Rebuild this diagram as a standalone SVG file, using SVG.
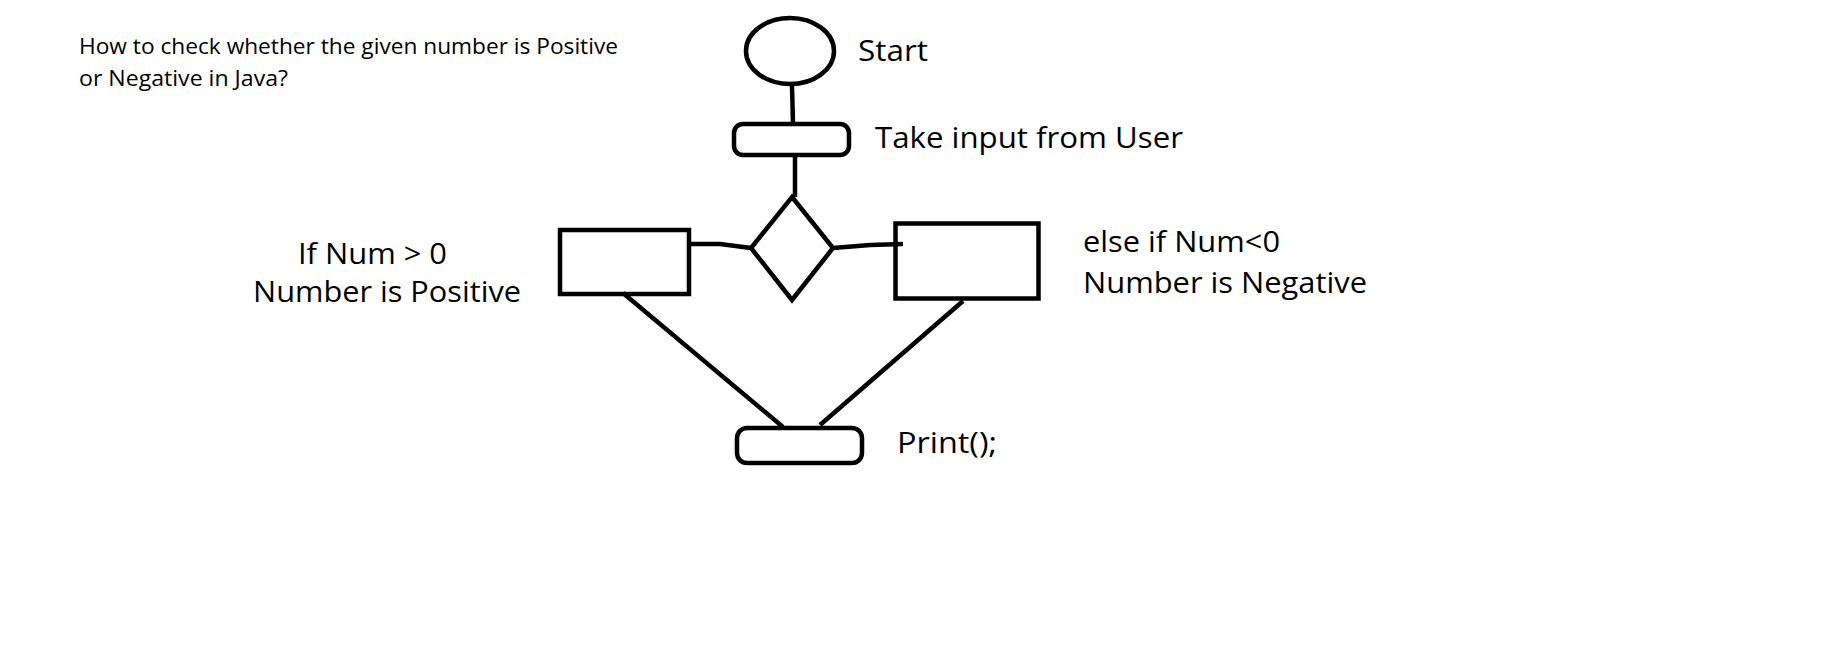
<svg xmlns="http://www.w3.org/2000/svg" width="1825" height="664" viewBox="0 0 1825 664">
<style>
.s{fill:none;stroke:#000;stroke-width:4.5;stroke-linejoin:miter}
.c{fill:none;stroke:#000;stroke-width:4.5;stroke-linecap:butt}
.t{font-family:"Open Sans","Noto Sans",sans-serif;font-size:30px;fill:#000}
.h{font-family:"Open Sans","Noto Sans",sans-serif;font-size:22.5px;fill:#000}
</style>
<rect width="1825" height="664" fill="#fff"/>
<g id="title">
<text class="h" x="79" y="54" textLength="539" lengthAdjust="spacingAndGlyphs">How to check whether the given number is Positive</text>
<text class="h" x="79" y="86" textLength="209" lengthAdjust="spacingAndGlyphs">or Negative in Java?</text>
</g>
<g id="connectors">
<path class="c" d="M792,86 L793,124"/>
<path class="c" d="M795,155 L795,197"/>
<path class="c" d="M687,244 L720,244 L751,248"/>
<path class="c" d="M833,248 L870,245 L903,244"/>
<path class="c" d="M623,293 L783,427"/>
<path class="c" d="M963,301 L820,425"/>
</g>
<g id="start">
<ellipse class="s" cx="790" cy="51" rx="44" ry="33"/>
<text class="t" x="858" y="61" textLength="70" lengthAdjust="spacingAndGlyphs">Start</text>
</g>
<g id="input">
<rect class="s" x="734" y="124" width="115" height="31" rx="9"/>
<text class="t" x="875" y="148" textLength="308" lengthAdjust="spacingAndGlyphs">Take input from User</text>
</g>
<g id="decision">
<polygon class="s" points="792,197 833,248 792,300 751,248"/>
</g>
<g id="positive">
<rect class="s" x="560" y="230" width="129" height="64"/>
<text class="t" x="298" y="264" textLength="149" lengthAdjust="spacingAndGlyphs">If Num &gt; 0</text>
<text class="t" x="253" y="302" textLength="268" lengthAdjust="spacingAndGlyphs">Number is Positive</text>
</g>
<g id="negative">
<rect class="s" x="895.5" y="223.5" width="143" height="75"/>
<text class="t" x="1083" y="252" textLength="197" lengthAdjust="spacingAndGlyphs">else if Num&lt;0</text>
<text class="t" x="1083" y="293" textLength="284" lengthAdjust="spacingAndGlyphs">Number is Negative</text>
</g>
<g id="print">
<rect class="s" x="737" y="428" width="125" height="35" rx="10"/>
<text class="t" x="897" y="453" textLength="100" lengthAdjust="spacingAndGlyphs">Print();</text>
</g>
</svg>
